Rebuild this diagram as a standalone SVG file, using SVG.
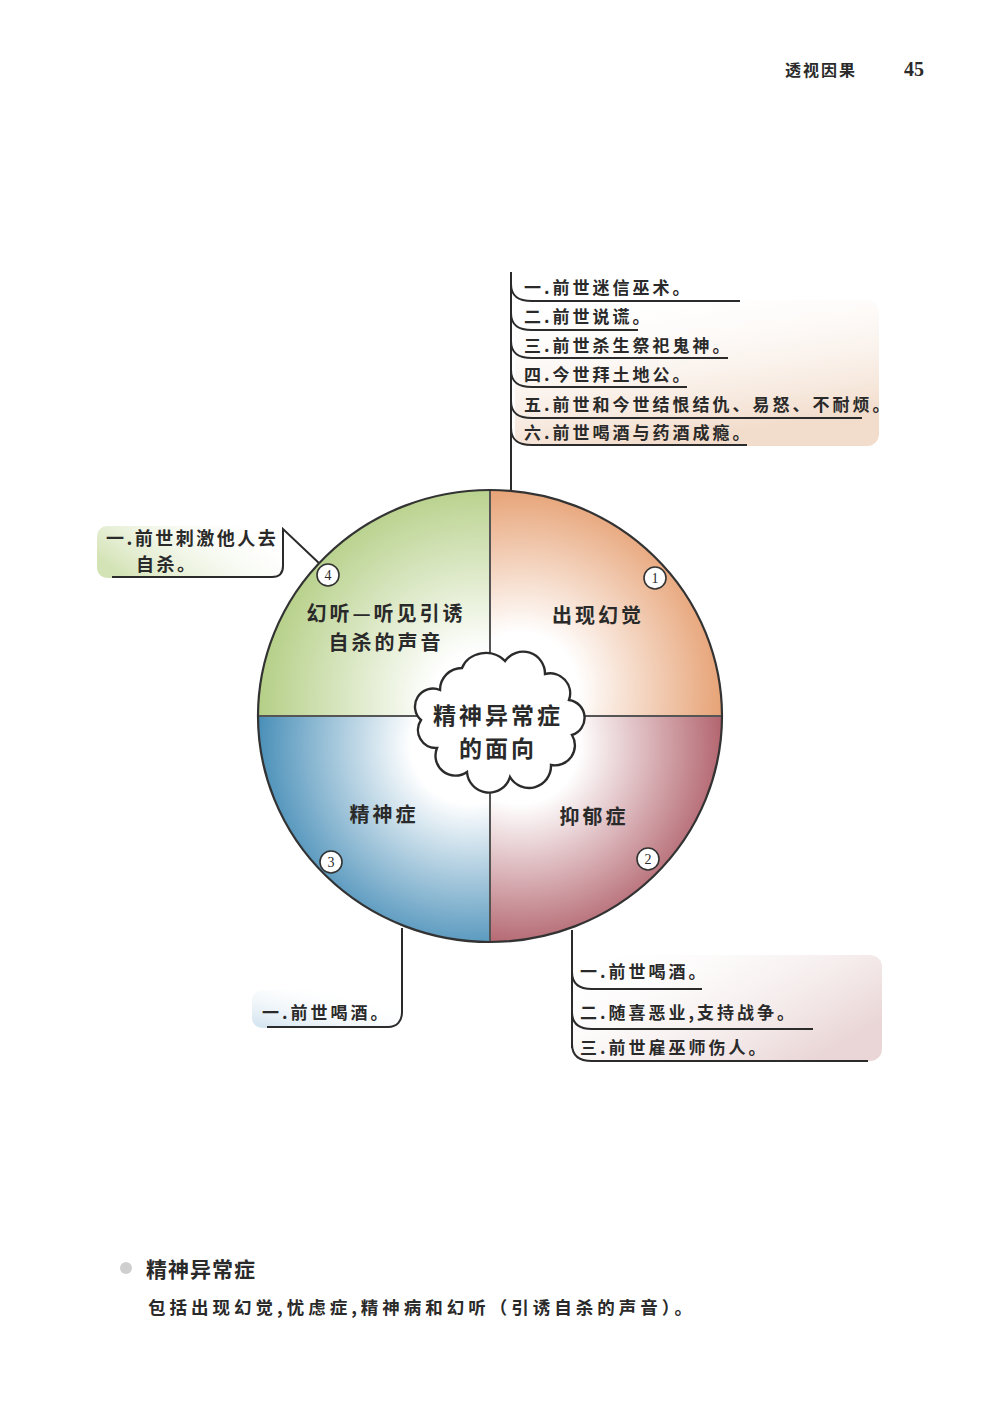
<svg xmlns="http://www.w3.org/2000/svg" width="1000" height="1415" viewBox="0 0 1000 1415">
<defs>
<style>
text{font-family:"Noto Sans CJK SC","Noto Sans CJK TC",sans-serif;font-weight:bold;fill:#2a2a2a}
.item{font-size:17px;letter-spacing:3px}
.quad{font-size:20px;letter-spacing:3px;text-anchor:middle}
.num{font-size:14px;font-weight:normal;text-anchor:middle;font-family:"Liberation Serif",serif}
.ln{fill:none;stroke:#2b2b2b;stroke-width:2}
.sep{fill:none;stroke:#555;stroke-width:2}
.badge{fill:#fff;stroke:#333;stroke-width:1.6}
</style>
<radialGradient id="gTR" gradientUnits="userSpaceOnUse" cx="520" cy="690" r="230"><stop offset="0.25" stop-color="#fff"/><stop offset="1" stop-color="#e2915c"/></radialGradient>
<radialGradient id="gBR" gradientUnits="userSpaceOnUse" cx="520" cy="745" r="235"><stop offset="0.25" stop-color="#fff"/><stop offset="1" stop-color="#a2434f"/></radialGradient>
<radialGradient id="gBL" gradientUnits="userSpaceOnUse" cx="470" cy="745" r="235"><stop offset="0.25" stop-color="#fff"/><stop offset="1" stop-color="#2f7fae"/></radialGradient>
<radialGradient id="gTL" gradientUnits="userSpaceOnUse" cx="480" cy="700" r="240"><stop offset="0.2" stop-color="#fff"/><stop offset="0.95" stop-color="#b2cd82"/></radialGradient>
<linearGradient id="bPeach" x1="0" y1="0" x2="0.35" y2="1"><stop offset="0" stop-color="#fff" stop-opacity="0"/><stop offset="1" stop-color="#f2dccb"/></linearGradient>
<linearGradient id="bGreen" x1="0" y1="0.6" x2="1" y2="0.2"><stop offset="0" stop-color="#d4e3b6"/><stop offset="1" stop-color="#fff" stop-opacity="0"/></linearGradient>
<linearGradient id="bBlue" x1="0" y1="1" x2="1" y2="0"><stop offset="0" stop-color="#cfe1ee"/><stop offset="0.8" stop-color="#fff" stop-opacity="0"/></linearGradient>
<linearGradient id="bPink" x1="0" y1="0" x2="1" y2="0.6"><stop offset="0" stop-color="#fff" stop-opacity="0"/><stop offset="1" stop-color="#ead6d6"/></linearGradient>
</defs>
<rect width="1000" height="1415" fill="#fff"/>

<g id="header">
<text x="785" y="76" style="font-size:16px;letter-spacing:2px">透视因果</text>
<text x="904" y="76" style="font-size:20px;font-family:'Liberation Serif',serif">45</text>
</g>

<g id="backgrounds">
<rect x="515" y="300" width="364" height="146" rx="12" fill="url(#bPeach)"/>
<rect x="97" y="526" width="186" height="52" rx="10" fill="url(#bGreen)"/>
<rect x="252" y="990" width="150" height="38" rx="10" fill="url(#bBlue)"/>
<rect x="573" y="955" width="309" height="106" rx="12" fill="url(#bPink)"/>
</g>

<g id="connectors">
<line class="ln" x1="511" y1="272" x2="511" y2="492"/>
<path class="ln" d="M511 284 C511 296 518 301 532 301 H740"/>
<path class="ln" d="M511 313 C511 325 518 330 532 330 H638"/>
<path class="ln" d="M511 341 C511 353 518 358 532 358 H728"/>
<path class="ln" d="M511 370 C511 382 518 387 532 387 H687"/>
<path class="ln" d="M511 401 C511 413 518 418 532 418 H862"/>
<path class="ln" d="M511 428 C511 440 518 445 532 445 H747"/>
<path class="ln" d="M321 565 L283 529 V566 C283 573 279 577 272 577 H112"/>
<path class="ln" d="M402 928 V1012 C402 1021 397 1027 388 1027 H267"/>
<line class="ln" x1="572" y1="930" x2="572" y2="1048"/>
<path class="ln" d="M572 972 C572 983 578 989 592 989 H702"/>
<path class="ln" d="M572 1012 C572 1023 578 1029 592 1029 H813"/>
<path class="ln" d="M572 1044 C572 1055 578 1061 592 1061 H868"/>
</g>

<g id="wheel">
<path d="M490 716 L490 490 A232 226 0 0 1 722 716 Z" fill="url(#gTR)"/>
<path d="M490 716 L722 716 A232 226 0 0 1 490 942 Z" fill="url(#gBR)"/>
<path d="M490 716 L490 942 A232 226 0 0 1 258 716 Z" fill="url(#gBL)"/>
<path d="M490 716 L258 716 A232 226 0 0 1 490 490 Z" fill="url(#gTL)"/>
<line class="sep" x1="490" y1="490" x2="490" y2="942"/>
<line class="sep" x1="258" y1="716" x2="722" y2="716"/>
<ellipse cx="490" cy="716" rx="232" ry="226" fill="none" stroke="#333" stroke-width="2.2"/>
</g>

<g id="q1">
<text class="quad" x="598" y="623">出现幻觉</text>
<circle class="badge" cx="655" cy="578" r="11"/><text class="num" x="655" y="583">1</text>
</g>
<g id="q2">
<text class="quad" x="594" y="824">抑郁症</text>
<circle class="badge" cx="648" cy="859" r="11"/><text class="num" x="648" y="864">2</text>
</g>
<g id="q3">
<text class="quad" x="384" y="822">精神症</text>
<circle class="badge" cx="331" cy="862" r="11"/><text class="num" x="331" y="867">3</text>
</g>
<g id="q4">
<text class="quad" x="386" y="621">幻听—听见引诱</text>
<text class="quad" x="386" y="650">自杀的声音</text>
<circle class="badge" cx="328" cy="575" r="11"/><text class="num" x="328" y="580">4</text>
</g>

<g id="center">
<path d="M440 690 A22 22 0 0 1 462 668 A25 22 0 0 1 505 661 A22 22 0 0 1 545 674 A20 20 0 0 1 569 700 A18 18 0 0 1 572 735 A20 20 0 0 1 551 765 A22 22 0 0 1 510 777 A22 22 0 0 1 467 772 A20 20 0 0 1 437 748 A18 18 0 0 1 421 720 A18 18 0 0 1 440 690 Z" fill="#fff" stroke="#2b2b2b" stroke-width="2.4"/>
<text x="498" y="724" style="font-size:23px;letter-spacing:3px;text-anchor:middle">精神异常症</text>
<text x="498" y="757" style="font-size:23px;letter-spacing:3px;text-anchor:middle">的面向</text>
</g>

<g id="top-items">
<text class="item" x="524" y="294">一.前世迷信巫术。</text>
<text class="item" x="524" y="323">二.前世说谎。</text>
<text class="item" x="524" y="352">三.前世杀生祭祀鬼神。</text>
<text class="item" x="524" y="381">四.今世拜土地公。</text>
<text class="item" x="524" y="411">五.前世和今世结恨结仇、易怒、不耐烦。</text>
<text class="item" x="524" y="439">六.前世喝酒与药酒成瘾。</text>
</g>

<g id="left-items">
<text class="item" x="106" y="545" style="font-size:18px;letter-spacing:2.5px">一.前世刺激他人去</text>
<text class="item" x="136" y="571" style="font-size:18px;letter-spacing:2.5px">自杀。</text>
</g>

<g id="bottom-left-items">
<text class="item" x="262" y="1019">一.前世喝酒。</text>
</g>

<g id="bottom-right-items">
<text class="item" x="580" y="978">一.前世喝酒。</text>
<text class="item" x="580" y="1019">二.随喜恶业,支持战争。</text>
<text class="item" x="580" y="1054">三.前世雇巫师伤人。</text>
</g>

<g id="footer">
<circle cx="126" cy="1268" r="6" fill="#cfcfcf"/>
<text x="146" y="1277" style="font-size:21px;letter-spacing:1px">精神异常症</text>
<text x="148" y="1314" style="font-size:17.5px;letter-spacing:4px">包括出现幻觉,忧虑症,精神病和幻听（引诱自杀的声音）。</text>
</g>
</svg>
